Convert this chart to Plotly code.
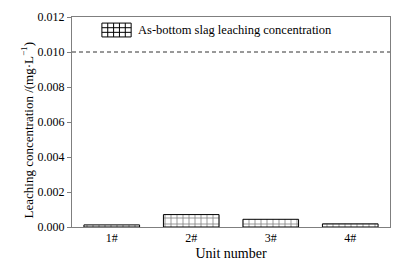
import plotly.graph_objects as go

units = ["1#", "2#", "3#", "4#"]
as_conc = [0.00012, 0.00071, 0.00044, 0.00018]
limit_value = 0.010
y_ticks = [0.000, 0.002, 0.004, 0.006, 0.008, 0.010, 0.012]
series_name = "As-bottom slag leaching concentration"
y_title = "Leaching concentration /(mg·L<sup>−1</sup>)"
x_title = "Unit number"

FONT = "Liberation Serif"
AX = "#7f7f7f"

fig = go.Figure()
fig.add_trace(go.Bar(
    x=units, y=as_conc, name=series_name, width=0.7,
    marker=dict(color="white", line=dict(color="black", width=1),
                pattern=dict(shape="+", fgcolor="black", bgcolor="white",
                             size=6, solidity=0.25)),
    showlegend=False,
))
fig.add_shape(type="line", xref="paper", x0=0, x1=1, yref="y",
              y0=limit_value, y1=limit_value,
              line=dict(color="#333", width=1, dash="4px,3px"))

# legend key: hatched rectangle with grid, drawn in paper coordinates
kx0, kx1, ky0, ky1 = 0.094, 0.186, 0.905, 0.971
ncol, nrow = 5, 3
fig.add_shape(type="rect", xref="paper", yref="paper", x0=kx0, x1=kx1,
              y0=ky0, y1=ky1, line=dict(color="black", width=1),
              fillcolor="white")
for i in range(1, ncol):
    xx = kx0 + (kx1 - kx0) * i / ncol
    fig.add_shape(type="line", xref="paper", yref="paper", x0=xx, x1=xx,
                  y0=ky0, y1=ky1, line=dict(color="black", width=1))
for j in range(1, nrow):
    yy = ky0 + (ky1 - ky0) * j / nrow
    fig.add_shape(type="line", xref="paper", yref="paper", x0=kx0, x1=kx1,
                  y0=yy, y1=yy, line=dict(color="black", width=1))
fig.add_annotation(xref="paper", yref="paper", x=0.2, y=0.938,
                   xanchor="left", yanchor="middle", showarrow=False,
                   text=series_name, font=dict(size=12.5))
# y-axis title
fig.add_annotation(xref="paper", yref="paper", x=-0.14, y=0.462,
                   xanchor="center", yanchor="middle", showarrow=False,
                   textangle=-90, text=y_title, font=dict(size=13))

fig.update_layout(
    width=403, height=263,
    margin=dict(l=72, r=13, t=17, b=36),
    paper_bgcolor="white", plot_bgcolor="white",
    font=dict(family=FONT, size=12, color="black"),
    showlegend=False,
    bargap=0.3,
)
fig.update_xaxes(
    showline=True, linecolor=AX, linewidth=1, mirror=True,
    ticks="", showgrid=False, automargin=False,
    title=dict(text=x_title, standoff=3),
    range=[-0.5, 3.5],
)
fig.update_yaxes(
    showline=True, linecolor=AX, linewidth=1, mirror=True,
    ticks="outside", ticklen=4, tickcolor=AX,
    showgrid=False, zeroline=False, automargin=False,
    range=[0, 0.012], tickvals=y_ticks,
    tickformat=".3f",
)
fig.write_html("out.html", config={"displayModeBar": False},
               post_script="document.body.style.margin='0px';document.body.style.overflow='hidden';")
